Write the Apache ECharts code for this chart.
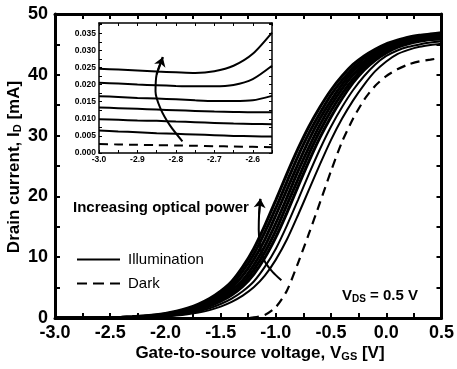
<!DOCTYPE html>
<html>
<head>
<meta charset="utf-8">
<script src="https://cdn.jsdelivr.net/npm/echarts@6/dist/echarts.min.js"></script>
<style>
html, body { margin: 0; padding: 0; background: #fff; }
#main { width: 457px; height: 369px; }
</style>
</head>
<body>
<div id="main"></div>
<script>
// main plot: gate voltage grid [V] and drain currents [mA]
var vgs = [-3.0, -2.9, -2.8, -2.7, -2.6, -2.5, -2.4, -2.3, -2.2, -2.1, -2.0, -1.9, -1.8, -1.7, -1.6, -1.5, -1.4, -1.3, -1.2, -1.1, -1.0, -0.9, -0.8, -0.7, -0.6, -0.5, -0.4, -0.3, -0.2, -0.1, 0.0, 0.1, 0.2, 0.3, 0.4, 0.5];
var illum1 = [0, 0, 0, 0.02, 0.04, 0.07, 0.12, 0.2, 0.32, 0.5, 0.75, 1.1, 1.6, 2.3, 3.2, 4.4, 6.0, 8.4, 11.4, 15.2, 19.4, 23.7, 27.8, 31.5, 34.7, 37.5, 39.8, 41.7, 43.1, 44.2, 45.1, 45.7, 46.2, 46.5, 46.7, 46.9];
var illum2 = [0, 0, 0, 0.01, 0.03, 0.06, 0.1, 0.18, 0.28, 0.45, 0.68, 1.0, 1.45, 2.1, 2.9, 4.05, 5.5, 7.7, 10.5, 14.1, 18.1, 22.4, 26.6, 30.4, 33.7, 36.7, 39.1, 41.1, 42.7, 43.9, 44.8, 45.5, 46.0, 46.3, 46.5, 46.7];
var illum3 = [0, 0, 0, 0.01, 0.03, 0.05, 0.09, 0.15, 0.25, 0.39, 0.6, 0.89, 1.3, 1.88, 2.74, 3.68, 5.04, 6.96, 9.6, 12.9, 16.9, 21.1, 25.3, 29.3, 32.8, 35.8, 38.4, 40.6, 42.2, 43.5, 44.5, 45.2, 45.8, 46.1, 46.4, 46.5];
var illum4 = [0, 0, 0, 0, 0.02, 0.04, 0.08, 0.13, 0.21, 0.34, 0.52, 0.79, 1.15, 1.67, 2.39, 3.32, 4.56, 6.24, 8.7, 11.8, 15.6, 19.8, 24.1, 28.1, 31.8, 35.0, 37.7, 40.0, 41.8, 43.2, 44.2, 45.0, 45.6, 46.0, 46.2, 46.3];
var illum5 = [0, 0, 0, 0, 0.02, 0.03, 0.06, 0.11, 0.18, 0.3, 0.46, 0.7, 1.03, 1.5, 2.16, 3.02, 4.16, 5.68, 7.92, 10.8, 14.4, 18.6, 22.8, 27.0, 30.8, 34.1, 36.9, 39.3, 41.3, 42.8, 43.9, 44.8, 45.4, 45.8, 46.0, 46.1];
var illum6 = [0, 0, 0, 0, 0.01, 0.03, 0.06, 0.1, 0.16, 0.26, 0.41, 0.63, 0.93, 1.35, 1.95, 2.75, 3.8, 5.2, 7.2, 9.9, 13.3, 17.3, 21.6, 25.8, 29.7, 33.1, 36.1, 38.7, 40.8, 42.4, 43.6, 44.5, 45.1, 45.5, 45.8, 45.9];
var illum7 = [0, 0, 0, 0, 0, 0.02, 0.04, 0.07, 0.12, 0.2, 0.32, 0.5, 0.75, 1.1, 1.6, 2.3, 3.2, 4.4, 6.0, 8.4, 11.4, 15.2, 19.4, 23.7, 27.8, 31.5, 34.7, 37.5, 39.8, 41.7, 43.1, 44.0, 44.6, 45.0, 45.3, 45.5];
var illum8 = [0, 0, 0, 0, 0, 0.01, 0.03, 0.05, 0.09, 0.15, 0.25, 0.39, 0.6, 0.89, 1.3, 1.88, 2.66, 3.68, 5.04, 6.96, 9.6, 12.9, 16.9, 21.1, 25.3, 29.3, 32.8, 35.8, 38.4, 40.6, 42.2, 43.4, 44.1, 44.6, 44.9, 45.1];
var dark = [0, 0, 0, 0, 0, 0, 0, 0, 0, 0, 0, 0, 0, 0, 0, 0, 0, 0, 0.1, 0.5, 1.8, 4.5, 9.0, 13.9, 19.0, 24.2, 29.0, 32.8, 35.9, 38.2, 39.8, 40.9, 41.7, 42.2, 42.5, 42.8];
var arrowX = [-0.95, -1.03, -1.10, -1.14, -1.155, -1.152, -1.14];
var arrowY = [6.2, 7.6, 9.3, 11.5, 14.5, 17.0, 19.6];

// inset: subthreshold region [mA]
var vIn = [-3.0, -2.95, -2.9, -2.85, -2.8, -2.75, -2.7, -2.65, -2.6, -2.55];
var in1 = [0.0246, 0.0244, 0.0241, 0.0238, 0.0236, 0.0234, 0.0239, 0.0255, 0.0290, 0.0352];
var in2 = [0.0205, 0.0203, 0.0200, 0.0198, 0.0196, 0.0195, 0.0195, 0.0199, 0.0216, 0.0255];
var in3 = [0.0166, 0.0164, 0.0161, 0.0159, 0.0157, 0.0154, 0.0152, 0.0152, 0.0154, 0.0167];
var in4 = [0.0133, 0.0131, 0.0129, 0.0127, 0.0125, 0.0123, 0.0121, 0.0120, 0.0119, 0.0119];
var in5 = [0.0099, 0.0097, 0.0095, 0.0094, 0.0092, 0.0090, 0.0088, 0.0086, 0.0085, 0.0084];
var in6 = [0.0066, 0.0063, 0.0061, 0.0058, 0.0056, 0.0054, 0.0052, 0.0050, 0.0049, 0.0048];
var inDark = [0.0026, 0.0025, 0.0024, 0.0023, 0.0022, 0.0021, 0.0020, 0.0019, 0.0018, 0.0017];
var inArrowX = [-2.783, -2.815, -2.84, -2.853, -2.85, -2.834];
var inArrowY = [0.0034, 0.008, 0.013, 0.018, 0.023, 0.0280];

var FONT = "'Liberation Sans', Arial, sans-serif";

function pairs(xs, ys) {
    var out = [];
    for (var i = 0; i < xs.length; i++) out.push([xs[i], ys[i]]);
    return out;
}

function curve(name, xs, ys, g, dashed, w) {
    return {
        name: name,
        type: 'line',
        xAxisIndex: g * 2,
        yAxisIndex: g * 2,
        data: pairs(xs, ys),
        smooth: 0.25,
        symbol: 'none',
        silent: true,
        lineStyle: { color: '#000', width: w || 2, type: dashed ? [9, 6] : 'solid' }
    };
}

// arrow body as a smooth line, head drawn on the last segment
function arrowHead(xs, ys, g) {
    var n = xs.length;
    return {
        type: 'lines',
        coordinateSystem: 'cartesian2d',
        xAxisIndex: g * 2,
        yAxisIndex: g * 2,
        symbol: ['none', 'arrow'],
        symbolSize: 9,
        silent: true,
        lineStyle: { color: '#000', width: 2, opacity: 1 },
        data: [{ coords: [[xs[n - 2], ys[n - 2]], [xs[n - 1], ys[n - 1]]] }]
    };
}

function xAx(g, pos, min, max, step, fmt, fs, tick) {
    return {
        type: 'value', gridIndex: g, position: pos, min: min, max: max, interval: step,
        axisLine: { onZero: false, lineStyle: { color: '#000', width: g ? 1.5 : 3 } },
        axisTick: { show: true, inside: true, length: tick, lineStyle: { color: '#000', width: g ? 1 : 2 } },
        minorTick: { show: true, splitNumber: 2, length: tick, lineStyle: { color: '#000', width: g ? 1 : 2 } },
        splitLine: { show: false },
        axisLabel: {
            show: pos === 'bottom', margin: g ? 2 : 6, color: '#000',
            fontFamily: FONT, fontWeight: 'bold', fontSize: fs,
            showMaxLabel: g ? false : true,
            formatter: function (v) { return v.toFixed(fmt); }
        }
    };
}

function yAx(g, pos, min, max, step, fmt, fs, tick) {
    var a = xAx(g, pos, min, max, step, fmt, fs, tick);
    a.axisLabel.show = pos === 'left';
    a.axisLabel.margin = g ? 3 : 7;
    return a;
}

var chart = echarts.init(document.getElementById('main'));

var option = {
    animation: false,
    backgroundColor: '#fff',
    grid: [
        { left: 55, top: 14, width: 387, height: 304 },
        { left: 99, top: 23, width: 173, height: 130, show: true, backgroundColor: '#fff', borderWidth: 0 }
    ],
    xAxis: [
        xAx(0, 'bottom', -3, 0.5, 0.5, 1, 18, 5),
        xAx(0, 'top', -3, 0.5, 0.5, 1, 18, 5),
        xAx(1, 'bottom', -3.0, -2.55, 0.1, 1, 8.5, 3),
        xAx(1, 'top', -3.0, -2.55, 0.1, 1, 8.5, 3)
    ],
    yAxis: [
        yAx(0, 'left', 0, 50, 10, 0, 18, 5),
        yAx(0, 'right', 0, 50, 10, 0, 18, 5),
        yAx(1, 'left', 0, 0.038, 0.005, 3, 8.5, 3),
        yAx(1, 'right', 0, 0.038, 0.005, 3, 8.5, 3)
    ],
    legend: {
        left: 77, top: 252, padding: 0, orient: 'vertical', itemWidth: 43, itemHeight: 10, itemGap: 9,
        textStyle: { fontFamily: FONT, fontSize: 15, color: '#000', padding: [0, 0, 0, 3] },
        data: [
            { name: 'Illumination', icon: 'path://M0,4h43v2h-43z', itemStyle: { color: '#000' } },
            { name: 'Dark', icon: 'path://M0,4h10v2h-10zM16,4h11v2h-11zM33,4h10v2h-10z', itemStyle: { color: '#000' } }
        ],
        selectedMode: false
    },
    graphic: [
        {
            type: 'text', x: 73, y: 208,
            style: { text: 'Increasing optical power', fontFamily: FONT, fontWeight: 'bold', fontSize: 15, fill: '#000', verticalAlign: 'middle' }
        },
        {
            type: 'text', x: 342, y: 296,
            style: {
                text: 'V{s|DS} = 0.5 V', fontFamily: FONT, fontWeight: 'bold', fontSize: 15, fill: '#000', verticalAlign: 'middle',
                rich: { s: { fontFamily: FONT, fontWeight: 'bold', fontSize: 10, padding: [6, 0, 0, 0] } }
            }
        },
        {
            type: 'text', x: 260, y: 353,
            style: {
                text: 'Gate-to-source voltage, V{s|GS} [V]', fontFamily: FONT, fontWeight: 'bold', fontSize: 17, fill: '#000',
                align: 'center', verticalAlign: 'middle',
                rich: { s: { fontFamily: FONT, fontWeight: 'bold', fontSize: 11, padding: [7, 0, 0, 0] } }
            }
        },
        {
            type: 'text', x: 14, y: 167, rotation: Math.PI / 2,
            style: {
                text: 'Drain current, I{s|D} [mA]', fontFamily: FONT, fontWeight: 'bold', fontSize: 17, fill: '#000',
                align: 'center', verticalAlign: 'middle',
                rich: { s: { fontFamily: FONT, fontWeight: 'bold', fontSize: 11, padding: [7, 0, 0, 0] } }
            }
        }
    ],
    series: [
        curve('Illumination', vgs, illum1, 0, false, 3),
        curve('Illumination', vgs, illum2, 0, false, 3),
        curve('Illumination', vgs, illum3, 0, false, 3),
        curve('Illumination', vgs, illum4, 0, false, 3),
        curve('Illumination', vgs, illum5, 0, false, 3),
        curve('Illumination', vgs, illum6, 0, false, 3),
        curve('Illumination', vgs, illum7, 0, false, 2),
        curve('Illumination', vgs, illum8, 0, false, 2),
        curve('Dark', vgs, dark, 0, true, 2.2),
        curve('arrow', arrowX, arrowY, 0),
        arrowHead(arrowX, arrowY, 0),
        curve('in1', vIn, in1, 1),
        curve('in2', vIn, in2, 1),
        curve('in3', vIn, in3, 1),
        curve('in4', vIn, in4, 1),
        curve('in5', vIn, in5, 1),
        curve('in6', vIn, in6, 1),
        curve('inDark', vIn, inDark, 1, true),
        curve('inArrow', inArrowX, inArrowY, 1),
        arrowHead(inArrowX, inArrowY, 1)
    ]
};

chart.setOption(option);
</script>
</body>
</html>
